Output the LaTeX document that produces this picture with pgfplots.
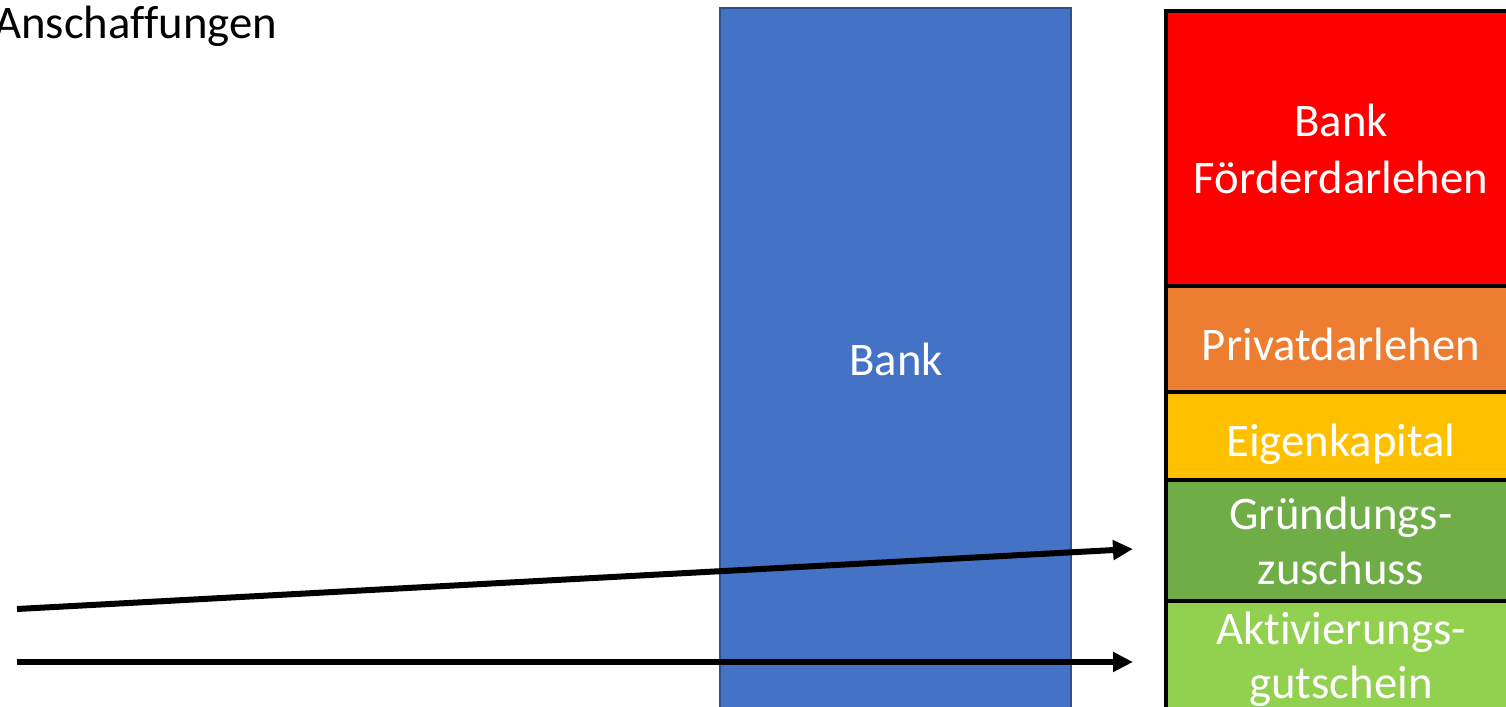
\documentclass[border=0pt]{standalone}
\usepackage{pgfplots}
\pgfplotsset{compat=1.18}
\usetikzlibrary{arrows.meta}
\usepackage{fontspec}
\setmainfont{Carlito}[Ligatures=CommonOff]

\definecolor{bankblau}{HTML}{4472C4}
\definecolor{bankrand}{HTML}{2F528F}
\definecolor{rot}{HTML}{FF0000}
\definecolor{orange}{HTML}{ED7D31}
\definecolor{gelb}{HTML}{FFC000}
\definecolor{gruen}{HTML}{70AD47}
\definecolor{hellgruen}{HTML}{92D050}

\tikzset{
    lbl/.style={anchor=base, inner sep=0pt, font=\fontsize{13.3}{16}\selectfont},
    pfeil/.style={black, mark=none, line width=0.06cm, -{Triangle[length=0.2cm,width=0.19cm]}},
}

\begin{document}
\begin{tikzpicture}
\clip (0,0) rectangle (15.06cm,7.07cm);
\begin{axis}[
    width=15.06cm, height=7.07cm,
    scale only axis,
    hide axis,
    xmin=0, xmax=1506,
    ymin=0, ymax=707,
    y dir=reverse,
    clip=false,
]
% linker Block: Bank
\addplot[fill=bankblau, draw=bankrand, line width=0.02cm] coordinates {(720,8)(1071,8)(1071,730)(720,730)} -- cycle;

% rechter Stapel
\addplot[fill=rot, draw=black, line width=0.035cm] coordinates {(1166,11)(1530,11)(1530,286)(1166,286)} -- cycle;
\addplot[fill=orange, draw=black, line width=0.035cm] coordinates {(1166,286)(1530,286)(1530,392)(1166,392)} -- cycle;
\addplot[fill=gelb, draw=black, line width=0.035cm] coordinates {(1166,392)(1530,392)(1530,480)(1166,480)} -- cycle;
\addplot[fill=gruen, draw=black, line width=0.035cm] coordinates {(1166,480)(1530,480)(1530,601)(1166,601)} -- cycle;
\addplot[fill=hellgruen, draw=black, line width=0.035cm] coordinates {(1166,601)(1530,601)(1530,730)(1166,730)} -- cycle;

% Pfeile
\addplot[pfeil] coordinates {(17,609)(1133,549)};
\addplot[pfeil] coordinates {(17,662)(1133,662)};

% Beschriftungen
\node[lbl, anchor=base east] at (axis cs:278,39) {Anschaffungen};
\node[lbl, white] at (axis cs:896,376) {Bank};
\node[lbl, white] at (axis cs:1341,137) {Bank};
\node[lbl, white] at (axis cs:1341,194) {Förderdarlehen};
\node[lbl, white] at (axis cs:1341,360) {Privatdarlehen};
\node[lbl, white] at (axis cs:1341,456) {Eigenkapital};
\node[lbl, white] at (axis cs:1341,529) {Gründungs-};
\node[lbl, white] at (axis cs:1341,584) {zuschuss};
\node[lbl, white] at (axis cs:1341,644) {Aktivierungs-};
\node[lbl, white] at (axis cs:1341,698) {gutschein};
\end{axis}
\end{tikzpicture}
\end{document}
